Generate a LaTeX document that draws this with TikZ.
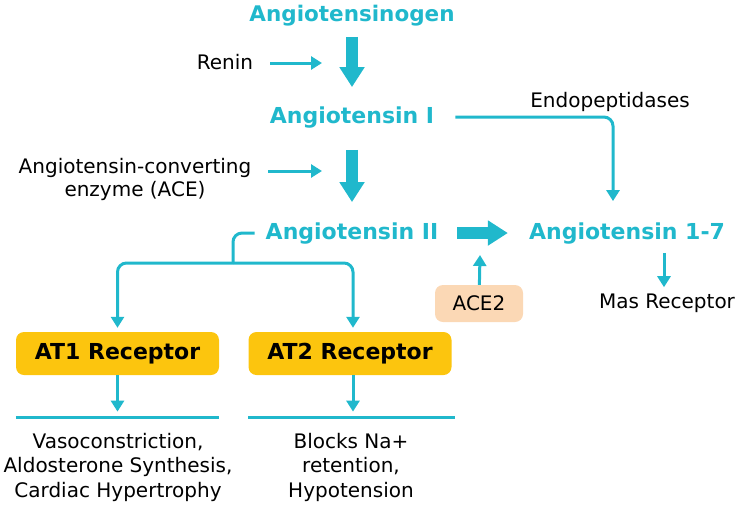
\documentclass[tikz,border=0pt]{standalone}
\usepackage{fontspec}
\setmainfont{DejaVu Sans}
\usepackage{tikz}
\usetikzlibrary{arrows.meta}
\definecolor{rasteal}{RGB}{32,184,204}
\definecolor{recgold}{RGB}{252,197,14}
\definecolor{acepeach}{RGB}{251,216,181}

\begin{document}
\begin{tikzpicture}[x=1pt,y=-1pt]
        \tikzstyle{stage}=[
            text=rasteal,
            font=\fontsize{22}{24}\selectfont\bfseries,
            inner sep=0pt,
            anchor=base
        ]
        \tikzstyle{plain}=[
            font=\fontsize{20}{23}\selectfont,
            inner sep=0pt,
            align=center
        ]
        \tikzstyle{receptor}=[
            fill=recgold,
            rounded corners=8pt,
            minimum width=203pt,
            minimum height=43pt,
            font=\fontsize{22}{24}\selectfont\bfseries
        ]
        \tikzstyle{effect}=[
            font=\fontsize{20}{24.5}\selectfont,
            align=center,
            inner xsep=0pt,
            inner ysep=15pt
        ]
        \tikzstyle{bigarrow}=[draw=rasteal, line width=12pt, -{Triangle[width=24pt,length=20pt]}]
        \tikzstyle{thinarrow}=[draw=rasteal, line width=3pt, -{Triangle[width=13pt,length=11pt]}]
        \tikzstyle{bar}=[draw=rasteal, line width=3pt]

        \useasboundingbox (0,0) rectangle (736,504);

        \node[stage, font=\fontsize{21.5}{24}\selectfont\bfseries] (ogen) at (352,21){Angiotensinogen};
        \node[stage] (ang1) at (352,123){Angiotensin I};
        \node[stage] (ang2) at (352,239){Angiotensin II};
        \node[stage] (ang17) at (627,239){Angiotensin 1-7};

        \node[plain, anchor=base] (renin) at (225,69){Renin};
        \node[plain] (ace) at (135,179){Angiotensin-converting\\enzyme (ACE)};
        \node[plain, anchor=base] (endo) at (610,107){Endopeptidases};
        \node[plain, anchor=base] (mas) at (667,308){Mas Receptor};
        \node[plain, fill=acepeach, rounded corners=8pt, minimum width=88pt, minimum height=37pt] (ace2) at (479,303.5){ACE2};

        \node[receptor] (at1) at (117.5,353.5){AT1 Receptor};
        \node[receptor] (at2) at (350,353.5){AT2 Receptor};

        \node[effect] (eff1) at (118,467){Vasoconstriction,\\Aldosterone Synthesis,\\Cardiac Hypertrophy};
        \node[effect] (eff2) at (351,467){Blocks Na+\\retention,\\Hypotension};

        \coordinate (reninhit) at (322,63);
        \coordinate (acehit) at (322,171);
        \coordinate (ace2hit) at (480,255);
        \coordinate (split) at (233,263);

        \draw[bigarrow, shorten <=11pt, shorten >=19pt] (ogen.south) -- (ang1.north);
        \draw[bigarrow, shorten <=22pt, shorten >=20pt] (ang1.south) -- (ang2.north);
        \draw[bigarrow, shorten <=19pt, shorten >=21pt] (ang2.east) -- (ang17.west);

        \draw[thinarrow, shorten <=17pt] (renin.east |- reninhit) -- (reninhit);
        \draw[thinarrow, shorten <=17pt] (ace.east |- acehit) -- (acehit);
        \draw[thinarrow] (ace2) -- (ace2hit);

        \draw[thinarrow, rounded corners=9pt, shorten <=21pt, shorten >=21pt] (ang1.east) -| ([xshift=-14pt]ang17.north);
        \draw[thinarrow, shorten <=9pt, shorten >=6pt] ([xshift=37pt]ang17.south) -- ([xshift=-3pt]mas.north);

        \draw[bar, rounded corners=9pt, shorten <=11pt] (ang2.west) -| (split);
        \draw[thinarrow, rounded corners=9pt, shorten >=4pt] (split) -| (at1.north);
        \draw[thinarrow, rounded corners=9pt, shorten >=4pt] (split) -| ([xshift=3pt]at2.north);

        \draw[thinarrow, shorten >=6pt] (at1.south) -- (at1.south |- eff1.north);
        \draw[thinarrow, shorten >=6pt] ([xshift=3pt]at2.south) -- ([xshift=3pt]at2.south |- eff2.north);
        \draw[bar] (at1.west |- eff1.north) -- (at1.east |- eff1.north);
        \draw[bar] (at2.west |- eff2.north) -- ([xshift=3pt]at2.east |- eff2.north);
\end{tikzpicture}
\end{document}
